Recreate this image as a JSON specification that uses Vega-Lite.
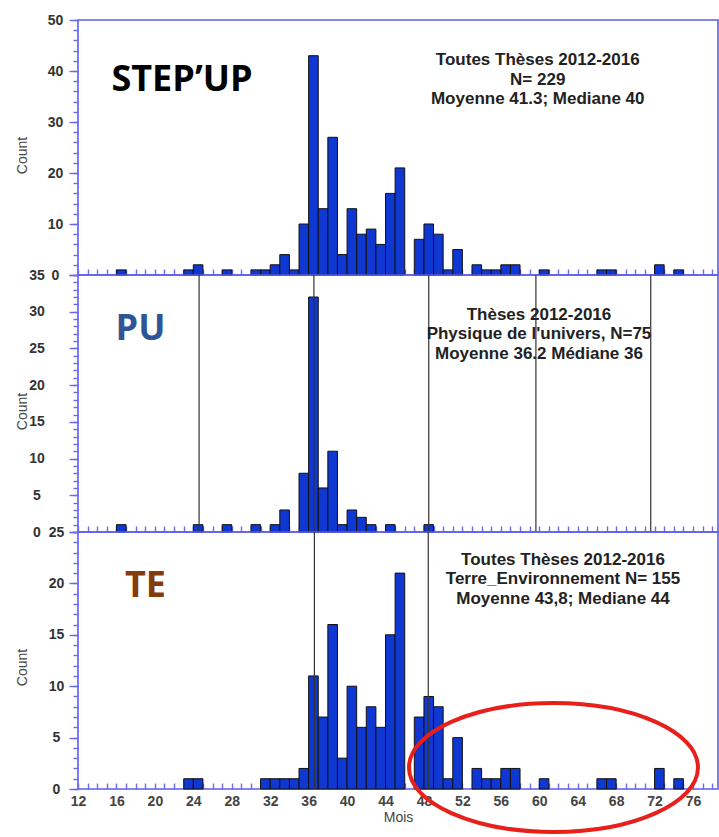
{
  "$schema": "https://vega.github.io/schema/vega-lite/v6.json",
  "padding": {"left": 14, "top": 12, "right": 0, "bottom": 0},
  "background": "white",
  "config": {
    "font": "Liberation Sans",
    "view": {"stroke": "#5c5cf0", "strokeWidth": 1.6},
    "axis": {
      "grid": false,
      "domain": false,
      "ticks": true,
      "tickColor": "#6a6af0",
      "tickWidth": 1.4,
      "labelFont": "Liberation Sans",
      "labelFontSize": 14,
      "labelFontWeight": "bold",
      "labelColor": "#333333",
      "labelOverlap": false,
      "labelFlush": false,
      "labelBound": false,
      "titleFont": "Liberation Sans",
      "titleFontSize": 14,
      "titleFontWeight": "normal",
      "titleColor": "#444444"
    }
  },
  "datasets": {
    "stepup": [
      {"mois": 16, "n": 1}, {"mois": 23, "n": 1}, {"mois": 24, "n": 2}, {"mois": 27, "n": 1},
      {"mois": 30, "n": 1}, {"mois": 31, "n": 1}, {"mois": 32, "n": 2}, {"mois": 33, "n": 4},
      {"mois": 34, "n": 1}, {"mois": 35, "n": 10}, {"mois": 36, "n": 43}, {"mois": 37, "n": 13},
      {"mois": 38, "n": 27}, {"mois": 39, "n": 4}, {"mois": 40, "n": 13}, {"mois": 41, "n": 8},
      {"mois": 42, "n": 9}, {"mois": 43, "n": 6}, {"mois": 44, "n": 16}, {"mois": 45, "n": 21},
      {"mois": 47, "n": 7}, {"mois": 48, "n": 10}, {"mois": 49, "n": 8}, {"mois": 50, "n": 1},
      {"mois": 51, "n": 5}, {"mois": 53, "n": 2}, {"mois": 54, "n": 1}, {"mois": 55, "n": 1},
      {"mois": 56, "n": 2}, {"mois": 57, "n": 2}, {"mois": 60, "n": 1}, {"mois": 66, "n": 1},
      {"mois": 67, "n": 1}, {"mois": 72, "n": 2}, {"mois": 74, "n": 1}
    ],
    "pu": [
      {"mois": 16, "n": 1}, {"mois": 24, "n": 1}, {"mois": 27, "n": 1}, {"mois": 30, "n": 1},
      {"mois": 32, "n": 1}, {"mois": 33, "n": 3}, {"mois": 35, "n": 8}, {"mois": 36, "n": 32},
      {"mois": 37, "n": 6}, {"mois": 38, "n": 11}, {"mois": 39, "n": 1}, {"mois": 40, "n": 3},
      {"mois": 41, "n": 2}, {"mois": 42, "n": 1}, {"mois": 44, "n": 1}, {"mois": 48, "n": 1}
    ],
    "te": [
      {"mois": 23, "n": 1}, {"mois": 24, "n": 1}, {"mois": 31, "n": 1}, {"mois": 32, "n": 1},
      {"mois": 33, "n": 1}, {"mois": 34, "n": 1}, {"mois": 35, "n": 2}, {"mois": 36, "n": 11},
      {"mois": 37, "n": 7}, {"mois": 38, "n": 16}, {"mois": 39, "n": 3}, {"mois": 40, "n": 10},
      {"mois": 41, "n": 6}, {"mois": 42, "n": 8}, {"mois": 43, "n": 6}, {"mois": 44, "n": 15},
      {"mois": 45, "n": 21}, {"mois": 47, "n": 7}, {"mois": 48, "n": 9}, {"mois": 49, "n": 8},
      {"mois": 50, "n": 1}, {"mois": 51, "n": 5}, {"mois": 53, "n": 2}, {"mois": 54, "n": 1},
      {"mois": 55, "n": 1}, {"mois": 56, "n": 2}, {"mois": 57, "n": 2}, {"mois": 60, "n": 1},
      {"mois": 66, "n": 1}, {"mois": 67, "n": 1}, {"mois": 72, "n": 2}, {"mois": 74, "n": 1}
    ],
    "lignes_pu": [{"x": 24.6}, {"x": 36.55}, {"x": 48.5}, {"x": 59.65}, {"x": 71.6}],
    "lignes_te": [{"x": 36.6}, {"x": 48.45}]
  },
  "spacing": 0,
  "bounds": "flush",
  "vconcat": [
    {
      "width": 640,
      "height": 255,
      "layer": [
        {
          "data": {"name": "stepup"},
          "transform": [{"bin": {"step": 1, "extent": [12, 79]}, "field": "mois", "as": ["m0", "m1"]}],
          "mark": {"type": "bar", "fill": "#0f37d2", "stroke": "#111111", "strokeWidth": 1},
          "encoding": {
            "x": {"field": "m0", "type": "quantitative", "scale": {"domain": [12, 78.6], "nice": false, "zero": false},
              "axis": {"orient": "bottom", "values": [12,13,14,15,16,17,18,19,20,21,22,23,24,25,26,27,28,29,30,31,32,33,34,35,36,37,38,39,40,41,42,43,44,45,46,47,48,49,50,51,52,53,54,55,56,57,58,59,60,61,62,63,64,65,66,67,68,69,70,71,72,73,74,75,76,77,78], "labels": false, "title": null, "tickSize": 6, "offset": -6}},
            "x2": {"field": "m1"},
            "y": {"field": "n", "type": "quantitative", "scale": {"domain": [0, 50], "nice": false},
              "axis": {"orient": "left", "values": [0,2,4,6,8,10,12,14,16,18,20,22,24,26,28,30,32,34,36,38,40,42,44,46,48,50],
                "labelExpr": "datum.value % 10 === 0 ? datum.label : ''",
                "tickSize": 5,
                "labelAlign": "center", "labelBaseline": "middle", "labelPadding": 18,
                "title": "Count", "titleX": -56, "titleY": 135, "titleBaseline": "middle", "titleAngle": -90}},
            "y2": {"datum": 0}
          }
        },
        {
          "data": {"values": [{}]},
          "mark": {"type": "text", "text": ["Toutes Thèses 2012-2016", "N= 229", "Moyenne 41.3; Mediane 40"], "font": "Liberation Sans", "fontSize": 17, "fontWeight": "bold", "lineHeight": 19.5, "align": "center", "baseline": "middle", "color": "#222222"},
          "encoding": {
            "x": {"datum": 59.84, "type": "quantitative", "axis": null},
            "y": {"datum": 42.06, "type": "quantitative", "axis": null}
          }
        },
        {
          "data": {"values": [{}]},
          "mark": {"type": "text", "text": "STEP’UP", "font": "Open Sans", "fontSize": 36, "fontWeight": "bold", "align": "center", "baseline": "middle", "color": "#000000"},
          "encoding": {
            "x": {"datum": 22.82, "type": "quantitative", "axis": null},
            "y": {"datum": 38.2, "type": "quantitative",
              "axis": {"orient": "left", "values": [0,10,20,30,40,50], "labels": false, "title": null, "tickSize": 9}}
          }
        }
      ],
      "resolve": {"axis": {"x": "independent", "y": "independent"}}
    },
    {
      "width": 640,
      "height": 257,
      "layer": [
        {
          "data": {"name": "pu"},
          "transform": [{"bin": {"step": 1, "extent": [12, 79]}, "field": "mois", "as": ["m0", "m1"]}],
          "mark": {"type": "bar", "fill": "#0f37d2", "stroke": "#111111", "strokeWidth": 1},
          "encoding": {
            "x": {"field": "m0", "type": "quantitative", "scale": {"domain": [12, 78.6], "nice": false, "zero": false},
              "axis": {"orient": "bottom", "values": [12,13,14,15,16,17,18,19,20,21,22,23,24,25,26,27,28,29,30,31,32,33,34,35,36,37,38,39,40,41,42,43,44,45,46,47,48,49,50,51,52,53,54,55,56,57,58,59,60,61,62,63,64,65,66,67,68,69,70,71,72,73,74,75,76,77,78], "labels": false, "title": null, "tickSize": 6, "offset": -6}},
            "x2": {"field": "m1"},
            "y": {"field": "n", "type": "quantitative", "scale": {"domain": [0, 35], "nice": false},
              "axis": {"orient": "left", "values": [0,1,2,3,4,5,6,7,8,9,10,11,12,13,14,15,16,17,18,19,20,21,22,23,24,25,26,27,28,29,30,31,32,33,34,35],
                "labelExpr": "datum.value % 5 === 0 ? datum.label : ''",
                "tickSize": 5,
                "labelAlign": "center", "labelBaseline": "middle", "labelPadding": 36.5,
                "title": "Count", "titleX": -56, "titleY": 136, "titleBaseline": "middle", "titleAngle": -90}},
            "y2": {"datum": 0}
          }
        },
        {
          "data": {"name": "lignes_pu"},
          "mark": {"type": "rule", "color": "#333333", "strokeWidth": 1.2},
          "encoding": {"x": {"field": "x", "type": "quantitative", "axis": null}}
        },
        {
          "data": {"values": [{}]},
          "mark": {"type": "text", "text": ["Thèses 2012-2016", "Physique de l'univers, N=75", "Moyenne 36.2 Médiane 36"], "font": "Liberation Sans", "fontSize": 17, "fontWeight": "bold", "lineHeight": 19.5, "align": "center", "baseline": "middle", "color": "#222222"},
          "encoding": {
            "x": {"datum": 59.97, "type": "quantitative", "axis": null},
            "y": {"datum": 29.62, "type": "quantitative", "axis": null}
          }
        },
        {
          "data": {"values": [{}]},
          "mark": {"type": "text", "text": "PU", "font": "Open Sans", "fontSize": 36, "fontWeight": "bold", "align": "center", "baseline": "middle", "color": "#2f5597"},
          "encoding": {
            "x": {"datum": 18.5, "type": "quantitative", "axis": null},
            "y": {"datum": 27.58, "type": "quantitative",
              "axis": {"orient": "left", "values": [0,5,10,15,20,25,30,35], "labels": false, "title": null, "tickSize": 9}}
          }
        }
      ],
      "resolve": {"axis": {"x": "independent", "y": "independent"}}
    },
    {
      "width": 640,
      "height": 257,
      "layer": [
        {
          "data": {"name": "te"},
          "transform": [{"bin": {"step": 1, "extent": [12, 79]}, "field": "mois", "as": ["m0", "m1"]}],
          "mark": {"type": "bar", "fill": "#0f37d2", "stroke": "#111111", "strokeWidth": 1},
          "encoding": {
            "x": {"field": "m0", "type": "quantitative", "scale": {"domain": [12, 78.6], "nice": false, "zero": false},
              "axis": {"orient": "bottom", "values": [12,13,14,15,16,17,18,19,20,21,22,23,24,25,26,27,28,29,30,31,32,33,34,35,36,37,38,39,40,41,42,43,44,45,46,47,48,49,50,51,52,53,54,55,56,57,58,59,60,61,62,63,64,65,66,67,68,69,70,71,72,73,74,75,76,77,78],
                "labelExpr": "datum.value % 4 === 0 ? datum.label : ''", "labelColor": "#444444", "labelPadding": 5,
                "title": "Mois", "titlePadding": 2, "tickSize": 6, "offset": -6}},
            "x2": {"field": "m1"},
            "y": {"field": "n", "type": "quantitative", "scale": {"domain": [0, 25], "nice": false},
              "axis": {"orient": "left", "values": [0,1,2,3,4,5,6,7,8,9,10,11,12,13,14,15,16,17,18,19,20,21,22,23,24,25],
                "labelExpr": "datum.value % 5 === 0 ? datum.label : ''",
                "tickSize": 5,
                "labelAlign": "center", "labelBaseline": "middle", "labelPadding": 17,
                "title": "Count", "titleX": -56, "titleY": 135, "titleBaseline": "middle", "titleAngle": -90}},
            "y2": {"datum": 0}
          }
        },
        {
          "data": {"name": "lignes_te"},
          "mark": {"type": "rule", "color": "#333333", "strokeWidth": 1.2},
          "encoding": {"x": {"field": "x", "type": "quantitative", "axis": null}}
        },
        {
          "data": {"values": [{}]},
          "mark": {"type": "text", "text": ["Toutes Thèses 2012-2016", "Terre_Environnement N= 155", "Moyenne 43,8; Mediane 44"], "font": "Liberation Sans", "fontSize": 17, "fontWeight": "bold", "lineHeight": 19.5, "align": "center", "baseline": "middle", "color": "#222222"},
          "encoding": {
            "x": {"datum": 62.47, "type": "quantitative", "axis": null},
            "y": {"datum": 22.3, "type": "quantitative", "axis": null}
          }
        },
        {
          "data": {"values": [{}]},
          "mark": {"type": "text", "text": "TE", "font": "Open Sans", "fontSize": 36, "fontWeight": "bold", "align": "center", "baseline": "middle", "color": "#843c0c"},
          "encoding": {
            "x": {"datum": 19.02, "type": "quantitative", "axis": null},
            "y": {"datum": 19.7, "type": "quantitative",
              "axis": {"orient": "left", "values": [0,5,10,15,20,25], "labels": false, "title": null, "tickSize": 9}}
          }
        },
        {
          "data": {"values": [{}]},
          "mark": {"type": "point", "shape": "M-1,0A1,0.446,0,1,0,1,0A1,0.446,0,1,0,-1,0Z", "size": 83521, "filled": false, "stroke": "#e8201c", "strokeWidth": 4, "opacity": 1, "clip": false},
          "encoding": {
            "x": {"datum": 61.48, "type": "quantitative", "axis": null},
            "y": {"datum": 2.09, "type": "quantitative", "axis": null}
          }
        }
      ],
      "resolve": {"axis": {"x": "independent", "y": "independent"}}
    }
  ]
}
